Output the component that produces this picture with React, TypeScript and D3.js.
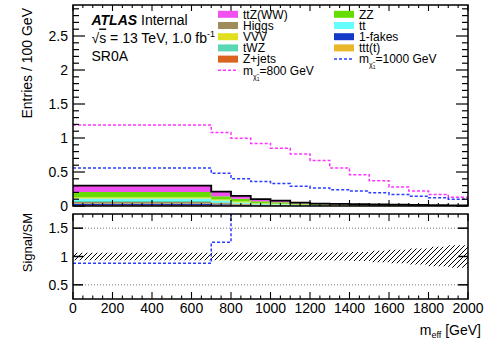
import React from 'react';
import * as d3 from 'd3';

// ---------------- data ----------------
const binEdges = [0, 700, 800, 900, 1000, 1100, 1200, 1300, 1400, 1500, 1600, 1700, 1800, 1900, 2000];

// backgrounds (entries / 100 GeV), stacked bottom -> top
const zJets = [0.015, 0.01, 0.006, 0.003, 0.002, 0.001, 0.001, 0.0005, 0, 0, 0, 0, 0, 0];
const lFakes = [0.02, 0.015, 0.008, 0.005, 0.004, 0.002, 0.001, 0.0005, 0.0005, 0, 0, 0, 0, 0];
const tttt = [0.01, 0.008, 0.006, 0.004, 0.003, 0.002, 0.001, 0.001, 0.001, 0.001, 0.0005, 0.0005, 0.0005, 0.0003];
const higgs = [0.015, 0.01, 0.008, 0.005, 0.004, 0.002, 0.002, 0.002, 0.0015, 0.001, 0.001, 0.0007, 0.0005, 0.0005];
const tWZ = [0.015, 0.012, 0.01, 0.007, 0.006, 0.004, 0.003, 0.002, 0.002, 0.002, 0.0015, 0.0013, 0.001, 0.001];
const ttbar = [0.035, 0.025, 0.015, 0.01, 0.008, 0.005, 0.003, 0.003, 0.003, 0.002, 0.002, 0.0015, 0.0015, 0.0012];
const vvv = [0.02, 0.015, 0.012, 0.008, 0.007, 0.005, 0.004, 0.004, 0.003, 0.003, 0.003, 0.003, 0.0025, 0.002];
const zz = [0.075, 0.05, 0.04, 0.028, 0.022, 0.015, 0.01, 0.009, 0.008, 0.007, 0.006, 0.005, 0.004, 0.003];
const ttZWW = [0.095, 0.065, 0.045, 0.03, 0.022, 0.014, 0.01, 0.008, 0.007, 0.006, 0.005, 0.004, 0.003, 0.002];

// signals
const sig800 = [1.19, 1.08, 0.995, 0.92, 0.85, 0.765, 0.67, 0.56, 0.46, 0.37, 0.28, 0.22, 0.17, 0.13];
const sig1000 = [0.56, 0.48, 0.4, 0.36, 0.33, 0.29, 0.265, 0.24, 0.22, 0.195, 0.17, 0.145, 0.12, 0.1];

// ratio panel
const ratio800 = [3.9, 5.1, 6.8, 8.6, 9.7, 14, 19, 19, 18, 17, 15, 14, 13, 13];
const ratio1000 = [0.88, 1.25, 2.7, 3.4, 3.8, 5.4, 7.5, 8, 8.5, 8.8, 9, 9, 9.2, 10];
const bkgRelErr = [0.065, 0.065, 0.07, 0.07, 0.065, 0.065, 0.065, 0.07, 0.08, 0.1, 0.12, 0.14, 0.17, 0.2];

const xTickValues = [0, 200, 400, 600, 800, 1000, 1200, 1400, 1600, 1800, 2000];
const yTickTop = [0, 0.5, 1, 1.5, 2, 2.5];
const yTickTopLabels = ['0', '0.5', '1', '1.5', '2', '2.5'];
const yTickRatio = [0.5, 1, 1.5];
const yTickRatioLabels = ['0.5', '1', '1.5'];

const stackKeys = ['zJets', 'lFakes', 'tttt', 'higgs', 'tWZ', 'ttbar', 'vvv', 'zz', 'ttZWW'];
const stackSeries: Record<string, number[]> = { zJets, lFakes, tttt, higgs, tWZ, ttbar, vvv, zz, ttZWW };
const stackColors: Record<string, string> = {
  zJets: '#d8641e',
  lFakes: '#1438c8',
  tttt: '#e8b82a',
  higgs: '#a08c5a',
  tWZ: '#5ad8b4',
  ttbar: '#66ffff',
  vvv: '#e0e020',
  zz: '#66dd00',
  ttZWW: '#f050f0',
};

const legendCol1 = [
  { label: 'ttZ(WW)', key: 'ttZWW' },
  { label: 'Higgs', key: 'higgs' },
  { label: 'VVV', key: 'vvv' },
  { label: 'tWZ', key: 'tWZ' },
  { label: 'Z+jets', key: 'zJets' },
];
const legendCol2 = [
  { label: 'ZZ', key: 'zz' },
  { label: 'tt', key: 'ttbar' },
  { label: '1-fakes', key: 'lFakes' },
  { label: 'ttt(t)', key: 'tttt' },
];

const SIG800_COLOR = '#ff33ff';
const SIG1000_COLOR = '#2a3cff';
const FONT = "'Liberation Sans', Arial, Helvetica, sans-serif";

export default function App() {
  const L = 73, R = 468;
  const topT = 5, topB = 206;
  const ratT = 214, ratB = 299;

  const x = d3.scaleLinear().domain([0, 2000]).range([L, R]);
  const y = d3.scaleLinear().domain([0, 2.956]).range([topB, topT]);
  const yr = d3.scaleLinear().domain([0.25, 1.75]).range([ratB, ratT]);

  const nb = binEdges.length - 1;
  const rows = d3.range(nb + 1).map((i) => {
    const j = Math.min(i, nb - 1);
    const r: any = { x: binEdges[i] };
    stackKeys.forEach((k) => (r[k] = stackSeries[k][j]));
    return r;
  });
  const stacked = d3.stack().keys(stackKeys)(rows as any);
  const area = d3
    .area<any>()
    .x((d) => x(d.data.x))
    .y0((d) => y(d[0]))
    .y1((d) => y(d[1]))
    .curve(d3.curveStepAfter);

  const totals = d3.range(nb).map((i) => d3.sum(stackKeys, (k) => stackSeries[k][i]));

  const stepPath = (vals: number[], ys: d3.ScaleLinear<number, number>) => {
    const pts: [number, number][] = [];
    vals.forEach((v, i) => {
      pts.push([x(binEdges[i]), ys(v)]);
      pts.push([x(binEdges[i + 1]), ys(v)]);
    });
    return d3.line()(pts) as string;
  };

  const xMinor = d3.range(0, 2001, 50);

  const bandArea = d3
    .area<any>()
    .x((d) => x(d.x))
    .y0((d) => yr(1 - d.e))
    .y1((d) => yr(1 + d.e))
    .curve(d3.curveStepAfter);
  const bandRows = d3.range(nb + 1).map((i) => ({ x: binEdges[i], e: bkgRelErr[Math.min(i, nb - 1)] }));

  const yMinorTop = d3.range(0, 2.95, 0.1);

  const legRow = (i: number) => 14.3 + i * 11.2;

  const sigLabel = (mass: string) => (
    <>
      <tspan>m</tspan>
      <tspan dy={4} fontSize={7}>χ̃</tspan>
      <tspan dy={2} fontSize={5}>1</tspan>
      <tspan dy={-6}>={mass} GeV</tspan>
    </>
  );

  return (
    <svg width={485} height={339} style={{ display: 'block', position: 'absolute', left: 0, top: 0 }} fontFamily={FONT}>
      <defs>
        <clipPath id="clipTop">
          <rect x={L} y={topT} width={R - L} height={topB - topT} />
        </clipPath>
        <clipPath id="clipRat">
          <rect x={L} y={ratT} width={R - L} height={ratB - ratT} />
        </clipPath>
        <pattern id="hatch" patternUnits="userSpaceOnUse" width={5} height={5}>
          <path d="M-1,6 L6,-1" stroke="#000" strokeWidth={1} />
        </pattern>
      </defs>
      <rect x={0} y={0} width={485} height={339} fill="#fff" />

      {/* ---------- top panel ---------- */}
      <g clipPath="url(#clipTop)">
        {stacked.map((s) => (
          <path key={s.key} d={area(s as any) as string} fill={stackColors[s.key]} stroke="none" />
        ))}
        <path d={stepPath(totals, y) + `L${x(2000)},${y(0)}`} fill="none" stroke="#000" strokeWidth={1.8} />
        <path d={stepPath(sig800, y)} fill="none" stroke={SIG800_COLOR} strokeWidth={1.5} strokeDasharray="3,2" />
        <path d={stepPath(sig1000, y)} fill="none" stroke={SIG1000_COLOR} strokeWidth={1.5} strokeDasharray="3,2" />
      </g>

      {/* top frame */}
      <rect x={L} y={topT} width={R - L} height={topB - topT} fill="none" stroke="#000" strokeWidth={1.5} />
      {/* y ticks top */}
      {yMinorTop.map((v, i) => {
        const major = Math.abs(v / 0.5 - Math.round(v / 0.5)) < 1e-6;
        const len = major ? 12 : 6;
        return (
          <g key={'yt' + i}>
            <line x1={L} x2={L + len} y1={y(v)} y2={y(v)} stroke="#000" strokeWidth={1.2} />
            <line x1={R} x2={R - len} y1={y(v)} y2={y(v)} stroke="#000" strokeWidth={1.2} />
          </g>
        );
      })}
      {yTickTop.map((v, i) => (
        <text key={'ytl' + i} x={68} y={y(v) + 5} textAnchor="end" fontSize={14}>
          {yTickTopLabels[i]}
        </text>
      ))}
      {/* x ticks top panel */}
      {xMinor.map((v) => {
        const major = v % 200 === 0;
        const len = major ? 6 : 3;
        return (
          <g key={'xt' + v}>
            <line x1={x(v)} x2={x(v)} y1={topB} y2={topB - len} stroke="#000" strokeWidth={1.1} />
            <line x1={x(v)} x2={x(v)} y1={topT} y2={topT + len} stroke="#000" strokeWidth={1.1} />
          </g>
        );
      })}

      {/* ATLAS label */}
      <text x={91.5} y={25} fontSize={14}>
        <tspan fontWeight="bold" fontStyle="italic">ATLAS</tspan>
        <tspan> Internal</tspan>
      </text>
      <text x={91.5} y={42.5} fontSize={14}>
        <tspan>√</tspan>
        <tspan textDecoration="overline">s</tspan>
        <tspan> = 13 TeV, 1.0 fb</tspan>
        <tspan dy={-6} fontSize={9}>-1</tspan>
      </text>
      <text x={91.5} y={61} fontSize={14}>SR0A</text>

      {/* legend */}
      {legendCol1.map((d, i) => (
        <g key={'l1' + i}>
          <rect x={218} y={legRow(i) - 3.5} width={20} height={7} fill={stackColors[d.key]} />
          <text x={243} y={legRow(i) + 4.2} fontSize={12}>{d.label}</text>
        </g>
      ))}
      <line x1={218} x2={238} y1={legRow(5)} y2={legRow(5)} stroke={SIG800_COLOR} strokeWidth={1.5} strokeDasharray="3,2" />
      <text x={243} y={legRow(5) + 4.2} fontSize={12}>{sigLabel('800')}</text>
      {legendCol2.map((d, i) => (
        <g key={'l2' + i}>
          <rect x={334} y={legRow(i) - 3.5} width={20} height={7} fill={stackColors[d.key]} />
          <text x={359} y={legRow(i) + 4.2} fontSize={12}>{d.label}</text>
        </g>
      ))}
      <line x1={334} x2={354} y1={legRow(4)} y2={legRow(4)} stroke={SIG1000_COLOR} strokeWidth={1.5} strokeDasharray="3,2" />
      <text x={359} y={legRow(4) + 4.2} fontSize={12}>{sigLabel('1000')}</text>

      {/* y title top */}
      <text transform={`translate(32,8) rotate(-90)`} textAnchor="end" fontSize={14}>
        Entries / 100 GeV
      </text>

      {/* ---------- ratio panel ---------- */}
      {[0.5, 1.5].map((v) => (
        <line key={'g' + v} x1={L} x2={R} y1={yr(v)} y2={yr(v)} stroke="#555" strokeWidth={0.8} strokeDasharray="1,2" />
      ))}
      <g clipPath="url(#clipRat)">
        <path d={bandArea(bandRows) as string} fill="url(#hatch)" stroke="none" />
        <path d={stepPath(ratio800, yr)} fill="none" stroke={SIG800_COLOR} strokeWidth={1.5} strokeDasharray="3,2" />
        <path d={stepPath(ratio1000, yr)} fill="none" stroke={SIG1000_COLOR} strokeWidth={1.5} strokeDasharray="3,2" />
      </g>
      <rect x={L} y={ratT} width={R - L} height={ratB - ratT} fill="none" stroke="#000" strokeWidth={1.5} />
      {yTickRatio.map((v, i) => (
        <g key={'yr' + i}>
          <line x1={L} x2={L + 10} y1={yr(v)} y2={yr(v)} stroke="#000" strokeWidth={1.5} />
          <line x1={R} x2={R - 10} y1={yr(v)} y2={yr(v)} stroke="#000" strokeWidth={1.5} />
          <text x={68} y={yr(v) + 5} textAnchor="end" fontSize={14}>
            {yTickRatioLabels[i]}
          </text>
        </g>
      ))}
      {xMinor.map((v) => {
        const major = v % 200 === 0;
        const len = major ? 7 : 3.5;
        return (
          <g key={'xr' + v}>
            <line x1={x(v)} x2={x(v)} y1={ratB} y2={ratB - len} stroke="#000" strokeWidth={1.1} />
            <line x1={x(v)} x2={x(v)} y1={ratT} y2={ratT + len} stroke="#000" strokeWidth={1.1} />
          </g>
        );
      })}
      {xTickValues.map((v) => (
        <text key={'xl' + v} x={x(v)} y={313} textAnchor="middle" fontSize={14}>
          {v}
        </text>
      ))}
      <text transform={`translate(32,213) rotate(-90)`} textAnchor="end" fontSize={13}>
        Signal/SM
      </text>
      <text x={481} y={335} textAnchor="end" fontSize={14}>
        <tspan>m</tspan>
        <tspan dy={3} fontSize={9}>eff</tspan>
        <tspan dy={-3}> [GeV]</tspan>
      </text>
    </svg>
  );
}
